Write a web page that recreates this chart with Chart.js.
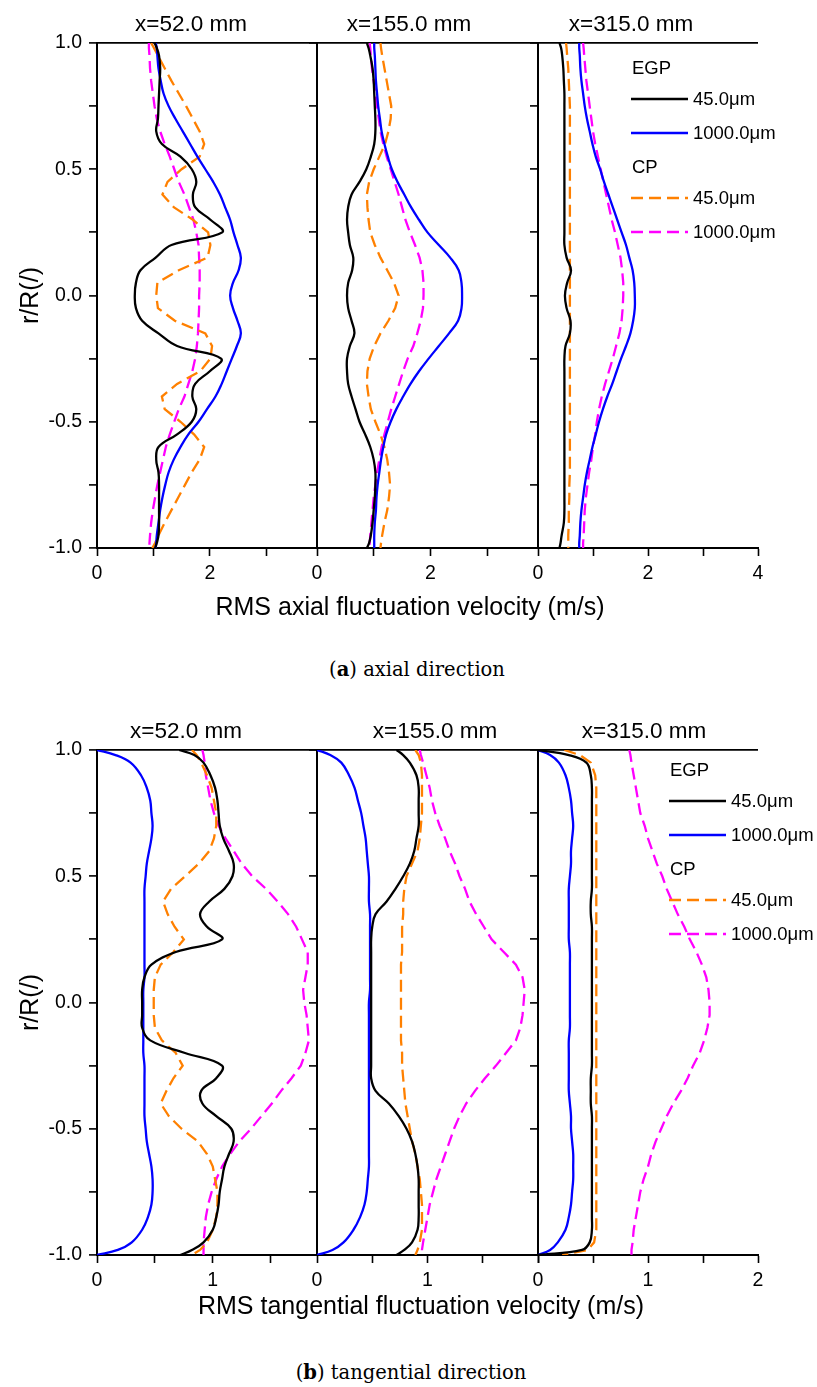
<!DOCTYPE html>
<html>
<head>
<meta charset="utf-8">
<title>RMS fluctuation velocity profiles</title>
<script src="https://cdn.jsdelivr.net/npm/chart.js@4.4.1/dist/chart.umd.min.js"></script>
<style>
  body { margin: 0; background: #fff; }
  #page { position: relative; width: 817px; height: 1387px; overflow: hidden; font-family: "Liberation Sans", Arial, sans-serif; color: #000; }
  #page canvas { position: absolute; }
  #page svg { position: absolute; }
  .txt { position: absolute; white-space: nowrap; line-height: 1; transform: translate(-50%, -50%); }
  .leg { position: absolute; white-space: nowrap; line-height: 1; font-size: 18.5px; transform: translateY(-50%); }
  .cap { font-family: "DejaVu Serif", serif; font-size: 19.5px; }
</style>
</head>
<body>
<div id="page"></div>
<script>
// radial position r/R, shared by every profile
const rPos = [1, 0.98, 0.95, 0.9, 0.85, 0.8, 0.75, 0.7, 0.65, 0.6, 0.55,
  0.5, 0.45, 0.4, 0.35, 0.3, 0.25, 0.2, 0.15, 0.1, 0.05,
  0, -0.05, -0.1, -0.15, -0.2, -0.25, -0.3, -0.35, -0.4, -0.45,
  -0.5, -0.55, -0.6, -0.65, -0.7, -0.75, -0.8, -0.85, -0.9, -0.95, -0.98, -1];

const stations = ['x=52.0 mm', 'x=155.0 mm', 'x=315.0 mm'];
const groupNames = ['EGP', 'CP'];
const sizeLabels = ['45.0\u03bcm', '1000.0\u03bcm'];

// (a) axial, x=52 mm
const ax52_egp45 = [1.02, 1.06, 1.10, 1.12, 1.11, 1.10, 1.09, 1.08, 1.05, 1.15, 1.48,
  1.68, 1.76, 1.70, 1.74, 2.01, 2.22, 1.32, 1.04, 0.77, 0.69,
  0.67, 0.69, 0.80, 1.09, 1.42, 2.20, 2.00, 1.74, 1.69, 1.76,
  1.68, 1.42, 1.09, 1.05, 1.09, 1.10, 1.10, 1.10, 1.10, 1.09, 1.06, 1.03];
const ax52_egp1000 = [1.04, 1.06, 1.07, 1.09, 1.13, 1.18, 1.27, 1.39, 1.52, 1.65, 1.78,
  1.92, 2.06, 2.18, 2.27, 2.36, 2.42, 2.49, 2.55, 2.51, 2.41,
  2.36, 2.41, 2.49, 2.55, 2.48, 2.39, 2.30, 2.21, 2.10, 1.95,
  1.80, 1.62, 1.48, 1.36, 1.27, 1.21, 1.16, 1.12, 1.09, 1.06, 1.05, 1.04];
const ax52_cp45 = [0.96, 1.01, 1.08, 1.20, 1.32, 1.45, 1.58, 1.70, 1.82, 1.90, 1.82,
  1.50, 1.25, 1.16, 1.36, 1.70, 1.97, 2.01, 1.96, 1.45, 1.07,
  1.05, 1.08, 1.38, 1.92, 2.04, 2.01, 1.83, 1.42, 1.15, 1.20,
  1.48, 1.72, 1.90, 1.82, 1.68, 1.56, 1.44, 1.32, 1.20, 1.09, 1.03, 0.98];
const ax52_cp1000 = [0.92, 0.92, 0.93, 0.94, 0.96, 0.99, 1.02, 1.06, 1.12, 1.20, 1.29,
  1.37, 1.45, 1.55, 1.63, 1.71, 1.76, 1.80, 1.81, 1.82, 1.82,
  1.81, 1.81, 1.80, 1.79, 1.77, 1.74, 1.69, 1.62, 1.55, 1.45,
  1.37, 1.29, 1.22, 1.17, 1.12, 1.07, 1.03, 0.99, 0.96, 0.94, 0.93, 0.93];

// (a) axial, x=155 mm
const ax155_egp45 = [0.88, 0.91, 0.94, 0.98, 1.00, 1.01, 1.02, 1.03, 1.03, 1.01, 0.95,
  0.87, 0.75, 0.61, 0.55, 0.53, 0.55, 0.58, 0.64, 0.62, 0.55,
  0.53, 0.55, 0.61, 0.66, 0.58, 0.53, 0.53, 0.55, 0.61, 0.68,
  0.75, 0.85, 0.94, 1.00, 1.03, 1.03, 1.02, 1.00, 0.98, 0.95, 0.92, 0.88];
const ax155_egp1000 = [1.01, 1.01, 1.02, 1.03, 1.04, 1.06, 1.08, 1.11, 1.14, 1.19, 1.25,
  1.32, 1.42, 1.54, 1.66, 1.80, 1.95, 2.15, 2.35, 2.50, 2.55,
  2.56, 2.55, 2.49, 2.33, 2.15, 1.97, 1.80, 1.65, 1.52, 1.40,
  1.30, 1.22, 1.17, 1.13, 1.10, 1.07, 1.05, 1.04, 1.02, 1.01, 1.01, 1.01];
const ax155_cp45 = [1.12, 1.13, 1.15, 1.19, 1.23, 1.27, 1.31, 1.30, 1.26, 1.20, 1.10,
  1.00, 0.92, 0.88, 0.89, 0.91, 0.94, 1.02, 1.12, 1.24, 1.36,
  1.44, 1.38, 1.26, 1.12, 1.01, 0.93, 0.89, 0.88, 0.91, 0.95,
  1.03, 1.12, 1.19, 1.24, 1.27, 1.29, 1.27, 1.24, 1.19, 1.15, 1.13, 1.12];
const ax155_cp1000 = [0.93, 0.94, 0.95, 0.97, 1.00, 1.03, 1.06, 1.09, 1.12, 1.17, 1.23,
  1.30, 1.37, 1.44, 1.50, 1.56, 1.64, 1.73, 1.81, 1.86, 1.88,
  1.88, 1.87, 1.83, 1.77, 1.70, 1.60, 1.52, 1.45, 1.38, 1.31,
  1.25, 1.19, 1.14, 1.10, 1.06, 1.03, 1.00, 0.98, 0.96, 0.94, 0.93, 0.93];

// (a) axial, x=315 mm
const ax315_egp45 = [0.39, 0.42, 0.44, 0.46, 0.47, 0.48, 0.48, 0.48, 0.48, 0.48, 0.48,
  0.48, 0.48, 0.48, 0.48, 0.48, 0.48, 0.48, 0.52, 0.60, 0.53,
  0.49, 0.52, 0.59, 0.58, 0.50, 0.48, 0.48, 0.48, 0.48, 0.48,
  0.48, 0.48, 0.48, 0.48, 0.48, 0.48, 0.48, 0.48, 0.47, 0.43, 0.41, 0.39];
const ax315_egp1000 = [0.75, 0.75, 0.76, 0.77, 0.79, 0.82, 0.85, 0.89, 0.94, 0.99, 1.05,
  1.13, 1.20, 1.28, 1.36, 1.44, 1.52, 1.60, 1.66, 1.72, 1.75,
  1.76, 1.76, 1.73, 1.68, 1.60, 1.51, 1.43, 1.35, 1.26, 1.18,
  1.11, 1.05, 0.99, 0.94, 0.89, 0.85, 0.82, 0.79, 0.77, 0.76, 0.75, 0.75];
const ax315_cp45 = [0.51, 0.52, 0.53, 0.55, 0.56, 0.57, 0.58, 0.58, 0.58, 0.58, 0.58,
  0.58, 0.58, 0.58, 0.58, 0.58, 0.58, 0.58, 0.58, 0.58, 0.58,
  0.58, 0.58, 0.58, 0.58, 0.58, 0.58, 0.58, 0.58, 0.58, 0.58,
  0.58, 0.58, 0.58, 0.58, 0.58, 0.57, 0.57, 0.56, 0.56, 0.55, 0.55, 0.55];
const ax315_cp1000 = [0.82, 0.83, 0.84, 0.86, 0.88, 0.91, 0.94, 0.97, 1.00, 1.04, 1.09,
  1.14, 1.19, 1.24, 1.29, 1.34, 1.40, 1.45, 1.50, 1.53, 1.55,
  1.55, 1.54, 1.52, 1.48, 1.42, 1.36, 1.29, 1.22, 1.16, 1.11,
  1.07, 1.04, 1.00, 0.97, 0.93, 0.90, 0.87, 0.85, 0.84, 0.83, 0.82, 0.82];

// (b) tangential, x=52 mm
const tg52_egp45 = [0.71, 0.84, 0.92, 0.98, 1.02, 1.04, 1.05, 1.06, 1.09, 1.14, 1.18,
  1.17, 1.10, 0.97, 0.89, 0.95, 1.08, 0.68, 0.47, 0.41, 0.39,
  0.39, 0.39, 0.39, 0.46, 0.76, 1.08, 1.03, 0.90, 0.91, 1.03,
  1.16, 1.18, 1.14, 1.10, 1.08, 1.06, 1.05, 1.03, 1.00, 0.92, 0.82, 0.72];
const tg52_egp1000 = [0.00, 0.16, 0.29, 0.38, 0.43, 0.46, 0.47, 0.48, 0.47, 0.45, 0.43,
  0.42, 0.41, 0.41, 0.41, 0.41, 0.41, 0.41, 0.41, 0.41, 0.40,
  0.40, 0.40, 0.40, 0.40, 0.40, 0.41, 0.41, 0.41, 0.41, 0.41,
  0.42, 0.43, 0.45, 0.47, 0.48, 0.48, 0.47, 0.44, 0.39, 0.30, 0.18, 0.00];
const tg52_cp45 = [0.82, 0.86, 0.90, 0.95, 0.99, 1.01, 1.03, 1.03, 1.01, 0.97, 0.88,
  0.76, 0.64, 0.57, 0.61, 0.67, 0.75, 0.66, 0.55, 0.50, 0.49,
  0.49, 0.49, 0.50, 0.56, 0.68, 0.74, 0.66, 0.60, 0.55, 0.62,
  0.73, 0.87, 0.95, 1.00, 1.02, 1.04, 1.04, 1.03, 1.00, 0.95, 0.89, 0.82];
const tg52_cp1000 = [0.91, 0.92, 0.93, 0.94, 0.96, 0.98, 1.01, 1.05, 1.11, 1.18, 1.25,
  1.34, 1.46, 1.56, 1.65, 1.72, 1.77, 1.82, 1.82, 1.80, 1.78,
  1.79, 1.81, 1.82, 1.83, 1.80, 1.76, 1.68, 1.59, 1.51, 1.42,
  1.33, 1.23, 1.15, 1.08, 1.03, 0.99, 0.96, 0.94, 0.93, 0.92, 0.92, 0.92];

// (b) tangential, x=155 mm
const tg155_egp45 = [0.72, 0.78, 0.84, 0.90, 0.92, 0.92, 0.92, 0.92, 0.90, 0.88, 0.84,
  0.78, 0.71, 0.63, 0.53, 0.50, 0.49, 0.49, 0.49, 0.49, 0.49,
  0.49, 0.49, 0.49, 0.49, 0.49, 0.49, 0.49, 0.53, 0.65, 0.74,
  0.81, 0.86, 0.89, 0.91, 0.92, 0.92, 0.92, 0.92, 0.91, 0.86, 0.79, 0.72];
const tg155_egp1000 = [0.00, 0.12, 0.22, 0.29, 0.34, 0.37, 0.40, 0.42, 0.44, 0.45, 0.46,
  0.47, 0.47, 0.47, 0.48, 0.48, 0.48, 0.48, 0.48, 0.48, 0.48,
  0.47, 0.47, 0.47, 0.47, 0.47, 0.47, 0.47, 0.47, 0.47, 0.47,
  0.47, 0.47, 0.47, 0.47, 0.46, 0.45, 0.43, 0.39, 0.33, 0.24, 0.14, 0.00];
const tg155_cp45 = [0.89, 0.92, 0.94, 0.95, 0.95, 0.95, 0.95, 0.94, 0.93, 0.91, 0.86,
  0.81, 0.79, 0.78, 0.78, 0.77, 0.77, 0.77, 0.76, 0.76, 0.76,
  0.76, 0.76, 0.76, 0.76, 0.77, 0.77, 0.78, 0.79, 0.80, 0.82,
  0.84, 0.86, 0.89, 0.91, 0.93, 0.94, 0.95, 0.95, 0.95, 0.93, 0.91, 0.89];
const tg155_cp1000 = [0.93, 0.94, 0.96, 0.99, 1.02, 1.04, 1.07, 1.11, 1.16, 1.20, 1.25,
  1.29, 1.34, 1.38, 1.44, 1.51, 1.58, 1.69, 1.80, 1.86, 1.88,
  1.87, 1.86, 1.84, 1.80, 1.71, 1.62, 1.52, 1.43, 1.35, 1.29,
  1.24, 1.20, 1.16, 1.12, 1.08, 1.05, 1.02, 1.00, 0.98, 0.96, 0.95, 0.95];

// (b) tangential, x=315 mm
const tg315_egp45 = [0.00, 0.28, 0.44, 0.48, 0.49, 0.49, 0.49, 0.49, 0.49, 0.49, 0.49,
  0.49, 0.49, 0.48, 0.48, 0.49, 0.49, 0.49, 0.49, 0.49, 0.49,
  0.49, 0.49, 0.49, 0.49, 0.49, 0.49, 0.48, 0.48, 0.48, 0.49,
  0.49, 0.49, 0.49, 0.49, 0.49, 0.49, 0.49, 0.49, 0.49, 0.47, 0.40, 0.00];
const tg315_egp1000 = [0.00, 0.11, 0.19, 0.25, 0.28, 0.30, 0.31, 0.32, 0.31, 0.30, 0.30,
  0.29, 0.28, 0.28, 0.28, 0.28, 0.28, 0.29, 0.29, 0.29, 0.29,
  0.29, 0.29, 0.29, 0.28, 0.28, 0.28, 0.28, 0.28, 0.29, 0.30,
  0.30, 0.31, 0.32, 0.32, 0.32, 0.31, 0.30, 0.28, 0.25, 0.18, 0.11, 0.00];
const tg315_cp45 = [0.24, 0.38, 0.48, 0.52, 0.53, 0.53, 0.53, 0.53, 0.53, 0.53, 0.53,
  0.53, 0.53, 0.53, 0.53, 0.53, 0.53, 0.53, 0.53, 0.53, 0.53,
  0.53, 0.53, 0.53, 0.53, 0.53, 0.53, 0.53, 0.53, 0.53, 0.53,
  0.53, 0.53, 0.53, 0.53, 0.53, 0.53, 0.53, 0.53, 0.53, 0.51, 0.45, 0.22];
const tg315_cp1000 = [0.83, 0.84, 0.85, 0.87, 0.89, 0.91, 0.93, 0.97, 1.00, 1.04, 1.08,
  1.13, 1.17, 1.22, 1.27, 1.33, 1.38, 1.44, 1.49, 1.53, 1.55,
  1.56, 1.56, 1.54, 1.51, 1.47, 1.41, 1.36, 1.30, 1.23, 1.17,
  1.12, 1.07, 1.03, 1.00, 0.96, 0.93, 0.91, 0.89, 0.87, 0.86, 0.85, 0.85];

const seriesStyle = [
  { color: '#000000', dash: [], tension: 0.4 },
  { color: '#0000ff', dash: [], tension: 0.4 },
  { color: '#ff8000', dash: [12, 6], tension: 0 },
  { color: '#ff00ff', dash: [12, 6], tension: 0 }
];

const FONT = '"Liberation Sans", Arial, sans-serif';
const plotLeft = [97, 317, 538];
const plotRight = [317, 538, 758];
const plotH = 505;

const panels = [
  {
    top: 43, xMax: [3.9, 3.9, 4], step: 1, labelEvery: 2,
    sets: [[ax52_egp45, ax52_egp1000, ax52_cp45, ax52_cp1000],
           [ax155_egp45, ax155_egp1000, ax155_cp45, ax155_cp1000],
           [ax315_egp45, ax315_egp1000, ax315_cp45, ax315_cp1000]],
    titleX: [191, 409, 631], titleY: 24,
    axisTitle: 'RMS axial fluctuation velocity (m/s)', axisTitleX: 410, axisTitleY: 606,
    caption: '<b>a</b>', captionText: ' axial direction', captionX: 417, captionY: 670,
    legendX: 631, legendY: 68
  },
  {
    top: 750, xMax: [1.9, 2, 2], step: 0.5, labelEvery: 1,
    sets: [[tg52_egp45, tg52_egp1000, tg52_cp45, tg52_cp1000],
           [tg155_egp45, tg155_egp1000, tg155_cp45, tg155_cp1000],
           [tg315_egp45, tg315_egp1000, tg315_cp45, tg315_cp1000]],
    titleX: [186, 435, 644], titleY: 731,
    axisTitle: 'RMS tangential fluctuation velocity (m/s)', axisTitleX: 421, axisTitleY: 1305,
    caption: '<b>b</b>', captionText: ' tangential direction', captionX: 411, captionY: 1373,
    legendX: 669, legendY: 770
  }
];

const page = document.getElementById('page');

function addText(text, x, y, size, cls) {
  const d = document.createElement('div');
  d.className = 'txt' + (cls ? ' ' + cls : '');
  d.style.left = x + 'px';
  d.style.top = y + 'px';
  if (size) d.style.fontSize = size + 'px';
  d.innerHTML = text;
  page.appendChild(d);
}

function isMultiple(v, m) {
  return Math.abs(v / m - Math.round(v / m)) < 1e-6;
}

function drawSubplot(panel, i) {
  const axW = i === 0 ? plotLeft[0] : 20;
  const padT = 20, padR = 16, axH = 44;
  const w = plotRight[i] - plotLeft[i];
  const cv = document.createElement('canvas');
  cv.width = axW + w + padR;
  cv.height = padT + plotH + axH;
  cv.style.left = (plotLeft[i] - axW) + 'px';
  cv.style.top = (panel.top - padT) + 'px';
  page.appendChild(cv);

  const datasets = panel.sets[i].map((vals, k) => ({
    data: vals.map((v, j) => ({ x: v, y: rPos[j] })),
    borderColor: seriesStyle[k].color,
    borderDash: seriesStyle[k].dash,
    borderWidth: 2.3,
    tension: seriesStyle[k].tension,
    pointRadius: 0,
    fill: false
  }));

  new Chart(cv, {
    type: 'line',
    data: { datasets: datasets },
    options: {
      responsive: false,
      animation: false,
      events: [],
      layout: { autoPadding: false, padding: { top: padT, right: padR, left: 0, bottom: 0 } },
      plugins: { legend: { display: false }, tooltip: { enabled: false } },
      scales: {
        x: {
          type: 'linear',
          min: 0,
          max: panel.xMax[i],
          afterFit: s => { s.height = axH; },
          border: { color: '#000', width: 2 },
          grid: { drawOnChartArea: false, tickLength: 8, tickColor: '#000', tickWidth: 1.6 },
          ticks: {
            stepSize: panel.step,
            includeBounds: false,
            autoSkip: false,
            maxRotation: 0,
            padding: 6,
            color: '#000',
            font: { family: FONT, size: 19.5 },
            callback: v => {
              if (!isMultiple(v, panel.labelEvery)) return '';
              if (i < 2 && v >= panel.xMax[i] - 1e-6) return '';
              return String(v);
            }
          }
        },
        y: {
          type: 'linear',
          min: -1,
          max: 1,
          afterFit: s => { s.width = axW; },
          border: { color: '#000', width: 2 },
          grid: {
            color: c => (c.tick && c.tick.value === 1 ? '#000' : 'rgba(0,0,0,0)'),
            lineWidth: 1.8,
            tickLength: 8,
            tickColor: '#000',
            tickWidth: 1.6
          },
          ticks: {
            stepSize: 0.25,
            autoSkip: false,
            padding: 7,
            color: '#000',
            font: { family: FONT, size: 19.5 },
            callback: v => (i === 0 && isMultiple(v, 0.5) ? v.toFixed(1) : '')
          },
          title: {
            display: i === 0,
            text: 'r/R(/)',
            color: '#000',
            font: { family: FONT, size: 25 },
            padding: { top: 16, bottom: 0 }
          }
        }
      }
    }
  });

  addText(stations[i], panel.titleX[i], panel.titleY, 22.5);
}

function addLegend(panel) {
  const offs = [0, 31, 65, 99, 130, 164];
  const rows = [null, 0, 1, null, 2, 3];
  rows.forEach((s, k) => {
    const y = panel.legendY + offs[k];
    const lab = document.createElement('div');
    lab.className = 'leg';
    lab.style.top = y + 'px';
    if (s === null) {
      lab.style.left = (panel.legendX + 1) + 'px';
      lab.textContent = groupNames[k === 0 ? 0 : 1];
    } else {
      const st = seriesStyle[s];
      const svg = document.createElementNS('http://www.w3.org/2000/svg', 'svg');
      svg.setAttribute('width', '57');
      svg.setAttribute('height', '6');
      svg.style.left = panel.legendX + 'px';
      svg.style.top = (y - 3) + 'px';
      const ln = document.createElementNS('http://www.w3.org/2000/svg', 'line');
      ln.setAttribute('x1', '0'); ln.setAttribute('y1', '3');
      ln.setAttribute('x2', '57'); ln.setAttribute('y2', '3');
      ln.setAttribute('stroke', st.color);
      ln.setAttribute('stroke-width', '2.3');
      if (st.dash.length) ln.setAttribute('stroke-dasharray', st.dash.join(' '));
      svg.appendChild(ln);
      page.appendChild(svg);
      lab.style.left = (panel.legendX + 62) + 'px';
      lab.textContent = sizeLabels[s % 2];
    }
    page.appendChild(lab);
  });
}

panels.forEach(panel => {
  for (let i = 0; i < 3; i++) drawSubplot(panel, i);
  addLegend(panel);
  addText(panel.axisTitle, panel.axisTitleX, panel.axisTitleY, 25);
  addText('(' + panel.caption + ')' + panel.captionText, panel.captionX, panel.captionY, null, 'cap');
});
</script>
</body>
</html>
